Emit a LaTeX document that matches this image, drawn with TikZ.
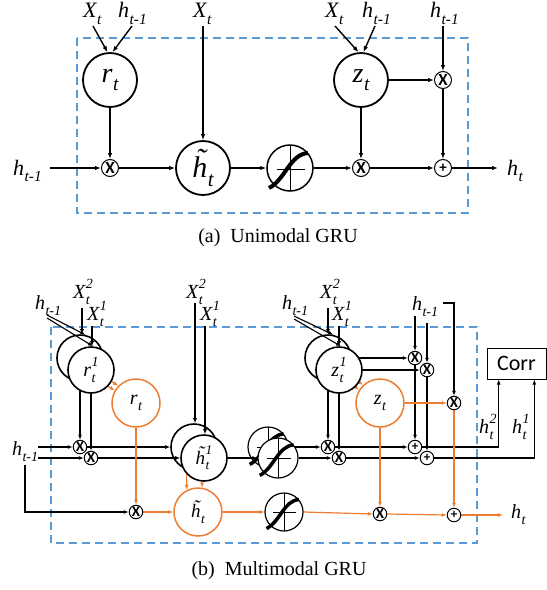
\documentclass[tikz,border=0pt]{standalone}
\usepackage{fontspec}
\setmainfont{Liberation Serif}
\newfontfamily\corrfont{Carlito}
\usepackage{graphicx}
\usetikzlibrary{arrows.meta,calc}
\pgfdeclarelayer{bg}
\pgfsetlayers{bg,main}
\definecolor{dblue}{RGB}{91,155,213}
\definecolor{dorange}{RGB}{237,125,49}
\newcommand\fs[1]{\fontsize{#1}{#1}\selectfont}
\newcommand\Sb[2]{#1\kern0.02em\raisebox{-0.3em}{\scalebox{0.7}{#2}}}
\newcommand\SbSp[3]{#1\kern0.02em\makebox[0pt][l]{\raisebox{-0.3em}{\scalebox{0.7}{#2}}}\raisebox{0.5em}{\scalebox{0.7}{#3}}}
\newcommand\htil{\makebox[0pt][l]{\hspace{0.12em}\raisebox{0.24em}{\char"02DC}}h}
\newcommand\tanhglyph[4]{%
  \begin{scope}[shift={(#1,#2)},scale=#3]
    \draw[line width=1pt] (0,-23) -- (0,23);
    \draw[line width=1pt] (-13,1) -- (15,1);
    \draw[line width=#4] (-21,20) .. controls (-5,12) and (0,-14) .. (18,-15);
  \end{scope}}
\tikzset{
  dbox/.style={draw=dblue, line width=1.5pt, dash pattern=on 8pt off 5pt},
  arra/.style={-{Latex[length=6pt,width=4.5pt]}, line width=1.4pt},
  arrb/.style={-{Latex[length=5pt,width=4pt]}, line width=1.1pt},
  arro/.style={-{Latex[length=5pt,width=4pt]}, line width=1.2pt, draw=dorange, color=dorange},
  bigc/.style={circle, draw, line width=1.8pt, minimum size=54pt, inner sep=0pt, fill=white, font=\fs{28}\itshape},
  tanhc/.style={circle, draw, line width=1.2pt, inner sep=0pt, fill=white},
  opa/.style={circle, draw, line width=1pt, minimum size=17pt, inner sep=0pt, fill=white, font=\corrfont\bfseries\fs{17}},
  opb/.style={circle, draw, line width=1pt, minimum size=13.5pt, inner sep=0pt, fill=white, font=\corrfont\bfseries\fs{15}},
  plb/.style={opb, font=\corrfont\bfseries\fs{13}},
  bc/.style={circle, draw, line width=1.6pt, minimum size=46pt, inner sep=0pt, font=\fs{20}\itshape},
  oc/.style={circle, draw=dorange, line width=1.5pt, minimum size=48pt, inner sep=0pt, fill=white, font=\fs{20}\itshape},
  tc/.style={circle, draw, line width=1.2pt, minimum size=40pt, inner sep=0pt},
  laba/.style={inner sep=0pt, anchor=base west, font=\fs{22}\itshape},
  labb/.style={inner sep=0pt, anchor=base west, font=\fs{20}\itshape},
  captxt/.style={inner sep=0pt, font=\fs{20}},
  jdot/.style={circle, fill, inner sep=0pt, minimum size=3pt}
}
\begin{document}
\begin{tikzpicture}[x=1pt,y=-1pt]
\useasboundingbox (0,0) rectangle (547,590);
\begin{pgfonlayer}{bg}
\draw[dbox] (77,38) rectangle (468,213);
\draw[dbox] (51,327) rectangle (477,543);
\end{pgfonlayer}

% ===== (a) =====
\node[bigc] (ra) at (110,80) {\Sb{r}{t}};
\node[bigc] (za) at (361,80) {\Sb{z}{t}};
\node[bigc, font=\fs{30}\itshape] (hta) at (203,168) {\Sb{\htil}{t}};
\node[tanhc, line width=1.5pt, minimum size=46pt] (ta) at (290,168) {};
\tanhglyph{290}{168}{1}{4pt}
\node[opa] (m1a) at (110,168) {X};
\node[opa] (m2a) at (361,168) {X};
\node[opa] (m3a) at (443,80) {X};
\node[opa, font=\corrfont\bfseries\fs{15}] (pa) at (443,168) {+};

\node[laba] (lXa1) at (83,17.5) {\Sb{X}{t}};
\node[laba] (lha1) at (118,17.5) {\Sb{h}{t-1}};
\node[laba] (lXa2) at (193,17.5) {\Sb{X}{t}};
\node[laba] (lXa3) at (325,17.5) {\Sb{X}{t}};
\node[laba] (lha3) at (362,17.5) {\Sb{h}{t-1}};
\node[laba] (lha4) at (430,17.5) {\Sb{h}{t-1}};
\node[laba] (lha0) at (13,175) {\Sb{h}{t-1}};
\node[laba] (lhta) at (507,175) {\Sb{h}{t}};

\coordinate (sa1) at (93,26);
\coordinate (sa2) at (132,26);
\coordinate (sa3) at (203,26);
\coordinate (sa4) at (335,26);
\coordinate (sa5) at (375,26);
\coordinate (sa6) at (443,26);
\coordinate (sa7) at (50,168);
\coordinate (ea8) at (498,168);

\begin{pgfonlayer}{bg}
\draw[arra] (sa1) -- (ra.95);
\draw[arra] (sa2) -- (ra.85);
\draw[arra] (sa3) -- (hta.north);
\draw[arra] (sa4) -- (za.95);
\draw[arra] (sa5) -- (za.85);
\draw[arra] (sa6) -- (m3a.north);
\draw[arra] (za.east) -- (m3a.west);
\draw[arra] (m3a.south) -- (pa.north);
\draw[arra] (ra.south) -- (m1a.north);
\draw[arra] (za.south) -- (m2a.north);
\draw[arra] (sa7) -- (m1a.west);
\draw[arra] (m1a.east) -- (hta.west);
\draw[arra] (hta.east) -- (ta.west);
\draw[arra] (ta.east) -- (m2a.west);
\draw[arra] (m2a.east) -- (pa.west);
\draw[arra] (pa.east) -- (ea8);
\end{pgfonlayer}

\node[captxt] (capa) at (278,238) {(a)\ \ Unimodal GRU};

% ===== (b) =====
\node[bc] (rB) at (80,358) {};
\node[bc, fill=white] (rF) at (91,370) {\SbSp{r}{t}{1}};
\node[oc] (rO) at (136,403) {\Sb{r}{t}};
\node[bc] (hB) at (194,447) {};
\node[bc, fill=white, font=\fs{19}\itshape] (hF) at (204,458) {\SbSp{\htil}{t}{1}};
\node[oc, font=\fs{19}\itshape] (hO) at (198,512) {\Sb{\htil}{t}};
\node[tc] (tB) at (268,447) {};
\tanhglyph{268}{447}{0.87}{3.5pt}
\node[tc, fill=white] (tF) at (278,458) {};
\tanhglyph{278}{458}{0.87}{3.5pt}
\node[tc, minimum size=38pt, fill=white] (tO) at (284,512) {};
\tanhglyph{284}{512}{0.83}{3.5pt}
\node[bc] (zB) at (328,358) {};
\node[bc, fill=white] (zF) at (339,370) {\SbSp{z}{t}{1}};
\node[oc] (zO) at (380,403) {\Sb{z}{t}};

\node[opb] (m1) at (80,447) {X};
\node[opb] (m2) at (91,458) {X};
\node[opb] (m9) at (136,512) {X};
\node[opb] (m3) at (328,447) {X};
\node[opb] (m4) at (339,458) {X};
\node[opb] (m5) at (415,358) {X};
\node[opb] (m6) at (427,370) {X};
\node[opb] (m7) at (454,403) {X};
\node[opb] (m8) at (380,514) {X};
\node[plb] (p1) at (415,447) {+};
\node[plb] (p2) at (427,458) {+};
\node[plb] (p3) at (454,515) {+};

\node[draw, line width=1pt, minimum width=59pt, minimum height=31pt, inner sep=0pt, font=\corrfont\fs{22}] (corr) at (516.5,363.5) {Corr};

\node[labb] (lX2r) at (73,298) {\SbSp{X}{t}{2}};
\node[labb] (lX1r) at (87,320) {\SbSp{X}{t}{1}};
\node[labb] (lhr) at (35,309) {\Sb{h}{t-1}};
\node[labb] (lX2h) at (186,298) {\SbSp{X}{t}{2}};
\node[labb] (lX1h) at (200,320) {\SbSp{X}{t}{1}};
\node[labb] (lX2z) at (320,298) {\SbSp{X}{t}{2}};
\node[labb] (lX1z) at (332,320) {\SbSp{X}{t}{1}};
\node[labb] (lhz) at (282,309) {\Sb{h}{t-1}};
\node[labb] (lhtr) at (412,310) {\Sb{h}{t-1}};
\node[labb] (lhl) at (12,455) {\Sb{h}{t-1}};
\node[labb] (lh2) at (479,433) {\SbSp{h}{t}{2}};
\node[labb] (lh1) at (512,433) {\SbSp{h}{t}{1}};
\node[labb] (lht) at (511,518) {\Sb{h}{t}};

\coordinate (sb1) at (82,308);
\coordinate (sb2) at (92,326);
\coordinate (sb3) at (47,315);
\coordinate (sb4) at (47,318);
\coordinate (sb5) at (195,303);
\coordinate (sb6) at (205,326);
\coordinate (sb7) at (294,316);
\coordinate (sb8) at (294,319);
\coordinate (sb9) at (328,308);
\coordinate (sb10) at (339,326);
\coordinate (sb11) at (415,316);
\coordinate (sb12) at (427,323);
\coordinate (sb13) at (443,303);
\coordinate (sb14) at (38,447);
\coordinate (sb15) at (38,458);
\coordinate (sb16) at (25,465);
\coordinate (eb1) at (503,515);
\coordinate (corrA) at ($(corr.south west)!0.2034!(corr.south east)$);
\coordinate (corrB) at ($(corr.south west)!0.797!(corr.south east)$);

\begin{pgfonlayer}{bg}
\draw[arrb] (sb1) -- (sb1 |- rB.north);
\draw[arrb] (sb2) -- (sb2 |- rF.north);
\draw[arrb] (sb3) -- (rB.77);
\draw[arrb] (sb4) -- (rF.85);
\draw[arrb] (sb5) -- (sb5 |- hB.north);
\draw[arrb] (sb6) -- (sb6 |- hF.north);
\draw[arrb] (sb7) -- (zB.77);
\draw[arrb] (sb8) -- (zF.85);
\draw[arrb] (sb9) -- (sb9 |- zB.north);
\draw[arrb] (sb10) -- (sb10 |- zF.north);
\draw[arrb] (rB.south) -- (m1.north);
\draw[arrb] (rF.south) -- (m2.north);
\draw[arrb] (sb14) -- (m1.west);
\draw[arrb] (sb15) -- (m2.west);
\draw[arrb] (sb16) |- (m9.west);
\draw[arrb] (m1.east) -- (hB.west);
\draw[arrb] (m2.east) -- (hF.west);
\draw[arrb] (hF.east) -- (tF.west);
\draw[arrb] (tB.east) -- (m3.west);
\draw[arrb] (tF.east) -- (m4.west);
\draw[arrb] (zB.south) -- (m3.north);
\draw[arrb] (zF.south) -- (m4.north);
\draw[arrb] (m3.east) -- (p1.west);
\draw[arrb] (m4.east) -- (p2.west);
\draw[arrb] (zB.east) -- (m5.west);
\draw[arrb] (zF.east) -- (m6.west);
\draw[arrb] (sb11) -- (m5.north);
\draw[arrb] (sb12) -- (m6.north);
\draw[arrb] (sb13) -| (m7.north);
\draw[arrb] (m5.south) -- (p1.north);
\draw[arrb] (m6.south) -- (p2.north);
\draw[arrb] (p1.east) -| (corrA);
\draw[arrb] (p2.east) -| (corrB);
\node[jdot] (j1) at (91,447) {};
\node[jdot] (j2) at (339,447) {};
\node[jdot] (j3) at (427,447) {};
% orange
\draw[arro] (rF.-43.5) -- (rO.150.6);
\draw[arro] (rF.-29) -- (rO.136.8);
\draw[arro] (zF.-46) -- (zO.148);
\draw[arro] (zF.-31.5) -- (zO.134.2);
\draw[arro] (rO.south) -- (m9.north);
\draw[arro] (m9.east) -- (hO.west);
\draw[arro] (hF.223) -- (hO.117);
\draw[arro] (hF.265) -- (hO.80);
\draw[arro] (hO.east) -- (tO.west);
\draw[arro] (tO.east) -- (m8.west);
\draw[arro] (zO.south) -- (m8.north);
\draw[arro] (zO.east) -- (m7.west);
\draw[arro] (m7.south) -- (p3.north);
\draw[arro] (m8.east) -- (p3.west);
\draw[arro] (p3.east) -- (eb1);
\end{pgfonlayer}

\node[captxt] (capb) at (279,571) {(b)\ \ Multimodal GRU};
\end{tikzpicture}
\end{document}
